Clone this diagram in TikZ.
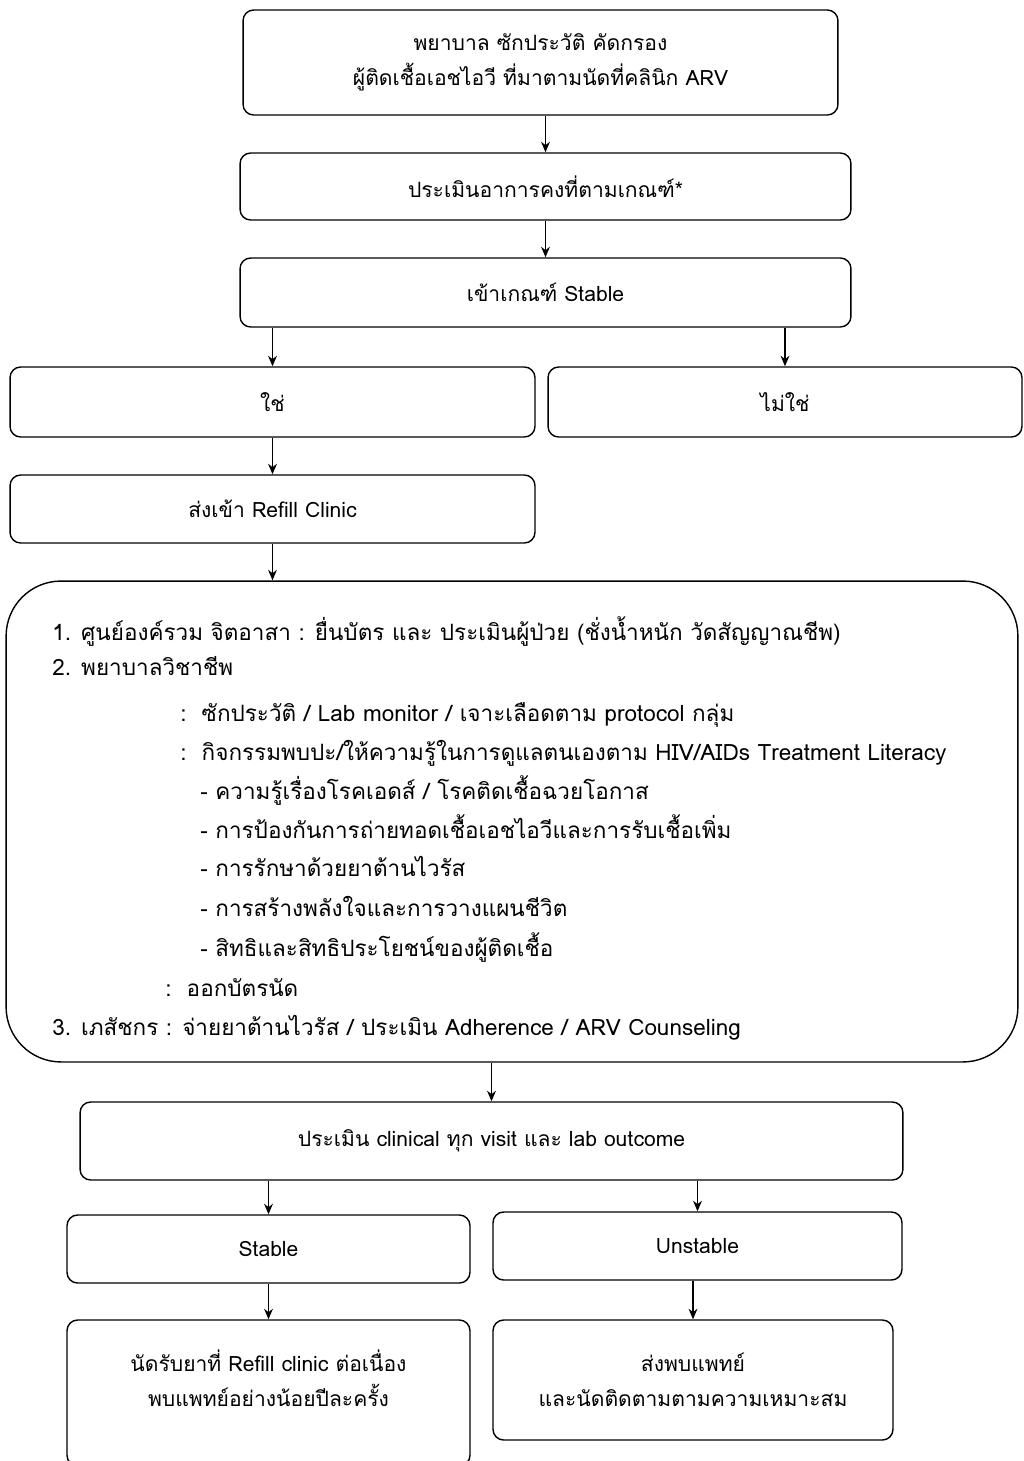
\documentclass[tikz,border=0pt]{standalone}
\usepackage{fontspec}
\setmainfont[Script=Thai]{Loma}
\usetikzlibrary{arrows.meta}
\tikzset{
  flowbox/.style={draw, line width=0.8pt, rounded corners=6pt, align=center, inner sep=0pt},
  flowarrow/.style={-{Stealth[length=6pt,width=5pt]}, line width=0.8pt},
  itemtext/.style={anchor=base west, inner sep=0pt, font=\fontsize{12.8}{20}\selectfont},
  colon x/.store in=\ColonX,
  dash x/.store in=\DashX,
  colon x=180,
  dash x=200
}

\begin{document}
\begin{tikzpicture}[x=0.02cm, y=-0.02cm, font=\fontsize{12}{20}\selectfont]

  \useasboundingbox (0,0) rectangle (1024,1461);

  % screening chain
  \node[flowbox, minimum width=11.9cm, minimum height=2.1cm] (T) at (540.5,62.5)
    {พยาบาล ซักประวัติ คัดกรอง\\ผู้ติดเชื้อเอชไอวี ที่มาตามนัดที่คลินิก ARV};
  \node[flowbox, minimum width=12.22cm, minimum height=1.34cm] (A) at (545.5,186.5)
    {ประเมินอาการคงที่ตามเกณฑ์*};
  \node[flowbox, minimum width=12.22cm, minimum height=1.38cm] (S) at (545.5,292.5)
    {เข้าเกณฑ์ Stable};

  % yes / no
  \node[flowbox, minimum width=10.5cm, minimum height=1.4cm] (Y) at (272.5,402) {ใช่};
  \node[flowbox, minimum width=9.48cm, minimum height=1.4cm] (N) at (785,402) {ไม่ใช่};
  \node[flowbox, minimum width=10.5cm, minimum height=1.36cm] (R) at (272.5,509)
    {ส่งเข้า Refill Clinic};

  % refill clinic steps
  \node[draw, line width=0.8pt, rounded corners=1.1cm, minimum width=20.24cm,
        minimum height=9.62cm] (B) at (512,821.5) {};

  \node[itemtext] (B1) at (52,640)
    {1. ศูนย์องค์รวม  จิตอาสา : ยื่นบัตร และ ประเมินผู้ป่วย (ชั่งน้ำหนัก วัดสัญญาณชีพ)};
  \node[itemtext] (B2) at (52,675) {2. พยาบาลวิชาชีพ};
  \node[itemtext] (B2a) at (\ColonX,721) {:\ \ ซักประวัติ / Lab monitor / เจาะเลือดตาม protocol กลุ่ม};
  \node[itemtext] (B2b) at (\ColonX,760)
    {:\ \ กิจกรรมพบปะ/ให้ความรู้ในการดูแลตนเองตาม HIV/AIDs Treatment Literacy};
  \node[itemtext] (L1) at (\DashX,799) {- ความรู้เรื่องโรคเอดส์ / โรคติดเชื้อฉวยโอกาส};
  \node[itemtext] (L2) at (\DashX,838) {- การป้องกันการถ่ายทอดเชื้อเอชไอวีและการรับเชื้อเพิ่ม};
  \node[itemtext] (L3) at (\DashX,876) {- การรักษาด้วยยาต้านไวรัส};
  \node[itemtext] (L4) at (\DashX,916) {- การสร้างพลังใจและการวางแผนชีวิต};
  \node[itemtext] (L5) at (\DashX,956) {- สิทธิและสิทธิประโยชน์ของผู้ติดเชื้อ};
  \node[itemtext] (B2c) at (165,996) {:\ \ ออกบัตรนัด};
  \node[itemtext] (B3) at (52,1035)
    {3. เภสัชกร : จ่ายยาต้านไวรัส / ประเมิน Adherence / ARV Counseling};

  % follow up
  \node[flowbox, minimum width=16.46cm, minimum height=1.56cm] (C) at (491.5,1141)
    {ประเมิน clinical ทุก visit และ lab outcome};
  \node[flowbox, minimum width=8.06cm, minimum height=1.36cm] (ST) at (268.5,1249) {Stable};
  \node[flowbox, minimum width=8.18cm, minimum height=1.36cm] (U) at (697.5,1246) {Unstable};
  \node[flowbox, minimum width=8.06cm, minimum height=2.92cm] (K) at (268.5,1393) {};
  \node[align=center, inner sep=0pt] (KT) at (268.5,1378)
    {นัดรับยาที่ Refill clinic ต่อเนื่อง\\พบแพทย์อย่างน้อยปีละครั้ง};
  \node[flowbox, minimum width=8cm, minimum height=2.4cm] (D) at (693,1380)
    {ส่งพบแพทย์\\และนัดติดตามตามความเหมาะสม};

  % arrows
  \draw[flowarrow] (A.north |- T.south) -- (A.north);
  \draw[flowarrow] (A.south) -- (S.north);
  \draw[flowarrow] (S.south -| Y) -- (Y.north);
  \draw[flowarrow] (S.south -| N) -- (N.north);
  \draw[flowarrow] (Y.south) -- (R.north);
  \draw[flowarrow] (R.south) -- (B.north -| R);
  \draw[flowarrow] (B.south -| C) -- (C.north);
  \draw[flowarrow] (C.south -| ST) -- (ST.north);
  \draw[flowarrow] (C.south -| U) -- (U.north);
  \draw[flowarrow] (ST.south) -- (K.north);
  \draw[flowarrow] (U.south -| D) -- (D.north);

\end{tikzpicture}
\end{document}
